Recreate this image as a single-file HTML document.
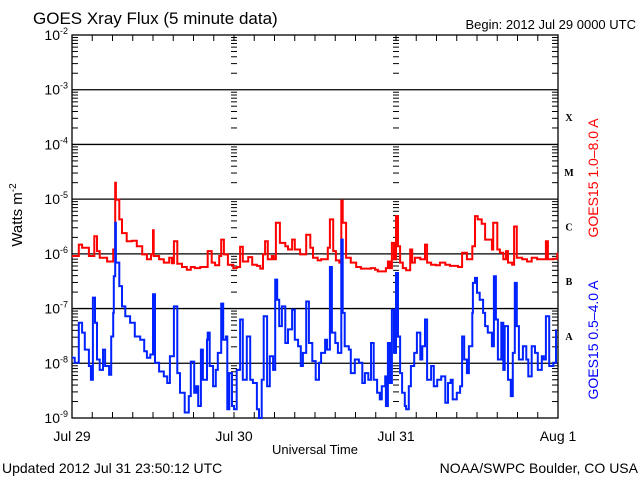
<!DOCTYPE html>
<html><head><meta charset="utf-8"><style>
html,body{margin:0;padding:0;background:#fff;}
svg{display:block;font-family:"Liberation Sans",sans-serif;}
</style></head><body>
<svg id="chart" width="640" height="480" viewBox="0 0 640 480">
<text x="33" y="24" font-size="17" fill="#000">GOES Xray Flux (5 minute data)</text>
<text x="636" y="29" font-size="13" fill="#000" text-anchor="end">Begin:  2012 Jul 29 0000 UTC</text>
<text transform="translate(22,215) rotate(-90)" font-size="15" text-anchor="middle" fill="#000">Watts m<tspan dy="-6" font-size="10">-2</tspan></text>
<text x="315" y="454" font-size="13" text-anchor="middle">Universal Time</text>
<text x="2" y="473" font-size="14">Updated 2012 Jul 31 23:50:12 UTC</text>
<text x="638" y="473" font-size="14" text-anchor="end">NOAA/SWPC Boulder, CO USA</text>
<text transform="translate(598,178) rotate(-90)" font-size="14" text-anchor="middle" fill="#ff0000">GOES15 1.0–8.0 A</text>
<text transform="translate(598,340) rotate(-90)" font-size="14" text-anchor="middle" fill="#0000ff">GOES15 0.5–4.0 A</text>
<g id="axes"></g>
<g id="series"></g>
</svg>
<script>
const dayLabels = ["Jul 29","Jul 30","Jul 31","Aug 1"];
const decadeExps = [-2,-3,-4,-5,-6,-7,-8,-9];
const classLabels = ["X","M","C","B","A"];
const classExps = [-4,-5,-6,-7,-8];
const redHours = [0.0,0.7,1.0,1.5,2.2,2.5,3.0,3.3,3.7,4.1,4.7,5.2,5.8,6.1,6.4,6.5,7.0,7.4,8.1,8.9,9.6,10.4,11.1,11.7,12.0,12.1,12.9,13.6,14.4,14.8,15.1,15.6,16.3,17.0,17.6,18.2,19.0,19.7,20.1,20.7,21.2,21.8,22.1,22.5,23.1,23.9,24.4,24.9,25.3,26.1,26.7,27.4,27.9,28.3,28.6,29.0,29.6,29.9,30.2,30.8,31.6,32.0,32.6,33.0,33.8,34.7,35.3,35.7,36.4,36.9,37.5,37.9,38.2,38.7,39.1,39.6,39.9,40.1,40.6,41.3,42.1,42.8,43.6,44.3,44.9,45.3,46.1,46.5,46.8,47.1,47.4,47.7,48.0,48.3,48.6,49.0,49.5,50.1,50.4,50.8,51.6,52.3,52.6,53.2,53.9,54.5,55.3,56.0,57.2,57.8,58.5,59.3,59.7,60.1,60.7,61.2,61.6,62.2,62.4,63.0,63.4,63.9,64.3,64.6,65.2,65.5,65.9,66.7,67.4,68.1,68.9,69.6,70.2,70.5,71.3,71.9];
const redLogFlux = [-6.04,-6.04,-5.83,-5.89,-5.89,-6.04,-6.04,-5.68,-5.95,-6.07,-6.07,-6.14,-6.14,-5.92,-4.70,-5.01,-5.37,-5.62,-5.77,-5.76,-5.86,-6.01,-6.10,-6.01,-5.57,-6.04,-6.10,-6.16,-6.07,-6.17,-5.77,-6.18,-6.24,-6.29,-6.24,-6.26,-6.24,-6.24,-5.95,-6.16,-6.21,-6.04,-5.74,-6.01,-6.20,-6.26,-6.24,-5.87,-6.14,-6.06,-6.20,-6.22,-6.27,-6.01,-5.77,-6.10,-6.04,-6.10,-5.43,-5.80,-5.86,-5.92,-5.74,-5.92,-6.01,-5.65,-5.89,-6.07,-6.12,-6.10,-6.10,-5.89,-5.37,-5.95,-6.12,-6.16,-5.03,-5.43,-6.07,-6.16,-6.24,-6.27,-6.27,-6.26,-6.29,-6.32,-6.32,-6.26,-6.14,-6.26,-5.80,-6.10,-5.31,-5.86,-6.16,-6.26,-6.30,-5.92,-6.16,-6.07,-6.10,-5.83,-6.16,-6.20,-6.21,-6.16,-6.20,-6.22,-6.24,-5.98,-6.10,-5.86,-5.31,-5.37,-5.45,-5.74,-5.74,-5.92,-5.43,-5.92,-5.98,-6.10,-5.95,-6.16,-6.20,-5.50,-6.07,-6.10,-6.14,-6.07,-6.10,-6.10,-5.77,-6.10,-6.09,-5.98];
const blueHours = [0.0,0.4,1.0,1.5,1.9,2.5,2.8,3.1,3.4,3.7,4.1,4.6,4.9,5.5,5.8,6.1,6.2,6.4,6.5,7.0,7.4,7.9,8.6,9.3,10.1,10.7,11.1,11.6,12.0,12.3,12.9,13.6,14.1,14.5,15.1,15.6,16.0,16.7,17.3,17.6,18.1,18.4,18.7,19.1,19.4,20.0,20.1,20.4,20.9,21.3,21.6,22.1,22.4,22.8,23.0,23.3,23.7,24.0,24.4,24.9,25.3,25.9,26.4,26.8,27.4,27.7,28.1,28.4,28.9,29.3,29.8,30.1,30.4,30.7,31.1,31.6,32.0,32.6,33.0,33.5,33.9,34.2,34.7,35.1,35.6,36.1,36.6,36.9,37.5,37.8,38.2,38.5,39.0,39.4,39.9,40.1,40.4,41.0,41.3,41.9,42.5,43.0,43.4,43.9,44.3,44.7,45.2,45.6,45.9,46.4,46.5,46.8,47.1,47.4,47.7,48.0,48.3,48.6,48.9,49.3,49.5,49.9,50.2,50.7,51.1,51.6,51.9,52.3,52.6,53.2,53.6,54.1,54.7,55.3,55.7,56.1,56.4,57.0,57.5,57.8,58.1,58.5,58.8,59.3,59.4,59.7,60.0,60.4,60.9,61.2,61.6,62.2,62.5,62.8,63.1,63.6,63.9,64.1,64.6,65.0,65.3,65.6,65.9,66.2,66.8,67.3,67.6,68.1,68.6,69.0,69.6,69.9,70.2,70.7,71.3,71.7];
const blueLogFlux = [-7.90,-7.99,-7.26,-7.44,-7.75,-8.05,-8.30,-6.80,-7.26,-7.93,-8.12,-7.75,-8.05,-8.21,-7.51,-7.08,-6.41,-5.43,-6.16,-6.59,-6.96,-7.14,-7.26,-7.51,-7.57,-7.78,-7.90,-7.84,-6.74,-7.99,-8.15,-8.24,-8.36,-7.87,-6.96,-8.18,-8.54,-8.90,-8.60,-7.97,-8.54,-8.42,-8.78,-7.75,-8.30,-7.57,-7.44,-8.05,-8.42,-8.12,-7.81,-6.91,-7.57,-7.51,-8.84,-8.18,-8.78,-8.84,-8.12,-7.20,-8.30,-7.51,-8.30,-8.36,-8.84,-9.00,-8.30,-7.14,-8.42,-7.87,-8.12,-6.47,-6.84,-7.32,-6.96,-7.63,-7.38,-7.02,-7.57,-7.69,-8.05,-7.81,-6.87,-7.63,-7.96,-8.30,-7.99,-7.81,-7.57,-7.75,-6.24,-7.44,-7.63,-7.81,-5.74,-7.08,-7.69,-7.75,-8.18,-7.93,-7.99,-8.36,-8.18,-8.30,-7.63,-8.30,-8.54,-8.66,-8.42,-8.24,-8.78,-7.63,-8.36,-7.02,-7.81,-6.35,-7.51,-8.18,-8.54,-8.78,-8.84,-8.42,-8.05,-7.81,-7.44,-7.93,-7.69,-7.20,-8.30,-8.05,-8.42,-8.30,-8.24,-8.72,-8.36,-8.30,-8.66,-8.54,-8.42,-7.51,-7.93,-8.18,-7.69,-7.08,-6.53,-6.44,-6.71,-6.84,-7.08,-7.32,-7.44,-7.69,-6.41,-7.20,-7.93,-7.26,-8.12,-7.32,-8.30,-8.60,-7.81,-6.53,-7.32,-7.93,-7.69,-7.93,-8.24,-7.69,-7.81,-8.12,-7.87,-7.93,-7.14,-8.05,-7.99,-7.38];

const NS="http://www.w3.org/2000/svg";
const L=72,R=558,T=35,B=418;
const xS=h=>L+(h/72)*(R-L);
const yS=lg=>T+(-2-lg)*(B-T)/7;
const axes=document.getElementById('axes');
const ser=document.getElementById('series');
function mk(tag,attrs,parent){const e=document.createElementNS(NS,tag);for(const k in attrs)e.setAttribute(k,attrs[k]);parent.appendChild(e);return e;}

const fr=mk('rect',{x:L,y:T,width:R-L,height:B-T,fill:'none',stroke:'#000','stroke-width':1.3},axes);


decadeExps.forEach(e=>{
  const y=yS(e);
  if(e<-2&&e>-9){const ln=mk('line',{x1:L,x2:R,y1:y,y2:y,stroke:'#000','stroke-width':1.3},axes);
    
    }
  const t=mk('text',{x:68,y:y+5,'font-size':14,'text-anchor':'end'},axes);
  
  
  t.innerHTML='10<tspan dy="-6" font-size="9">'+e+'</tspan>';
});
const xDiv=[xS(24),xS(48)];
for(let e=-3;e>=-9;e--){
  for(let m=2;m<=9;m++){
    const y=yS(e+Math.log10(m));
    mk('line',{x1:L,x2:L+6,y1:y,y2:y,stroke:'#000','stroke-width':1},axes);
    mk('line',{x1:R-6,x2:R,y1:y,y2:y,stroke:'#000','stroke-width':1},axes);
    xDiv.forEach(xd=>mk('line',{x1:xd-3,x2:xd+3,y1:y,y2:y,stroke:'#000','stroke-width':1},axes));
  }
}
for(let h=3;h<72;h+=3){
  const x=xS(h);
  mk('line',{x1:x,x2:x,y1:B,y2:B-6,stroke:'#000','stroke-width':1},axes);
  mk('line',{x1:x,x2:x,y1:T,y2:T+6,stroke:'#000','stroke-width':1},axes);
}
dayLabels.forEach((d,i)=>{
  const t=mk('text',{x:xS(i*24),y:441,'font-size':14,'text-anchor':'middle'},axes);
  
  
  t.textContent=d;
});
classLabels.forEach((c,i)=>{
  const t=mk('text',{x:569,y:yS(classExps[i]+0.5)+4,'font-size':10,'font-weight':'bold','font-family':'Liberation Serif, serif','text-anchor':'middle'},axes);
  
  
  t.textContent=c;
});
function stepPath(hs,vs){
  let d='';
  for(let i=0;i<hs.length;i++){
    const x=xS(hs[i]).toFixed(1),y=yS(vs[i]).toFixed(1);
    if(i===0)d+='M'+x+' '+y;
    else d+='H'+x+'V'+y;
  }
  return d;
}
const red=mk('path',{d:stepPath(redHours,redLogFlux),fill:'none',stroke:'#ff0000','stroke-width':2},ser);


const blue=mk('path',{d:stepPath(blueHours,blueLogFlux),fill:'none',stroke:'#0022ff','stroke-width':2},ser);


</script>
</body></html>
